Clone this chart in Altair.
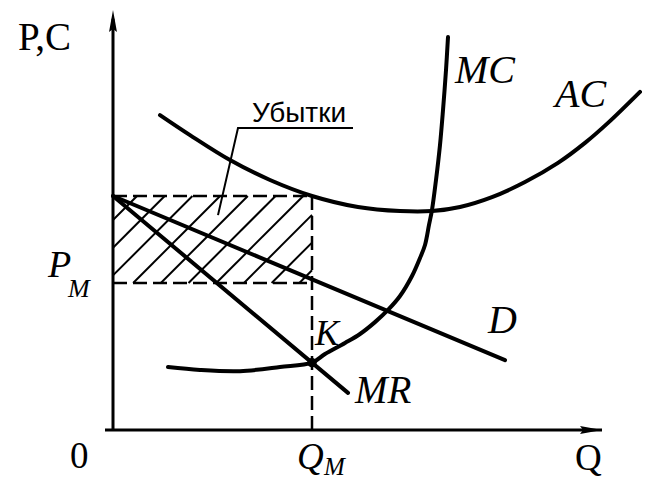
import altair as alt
import pandas as pd
import numpy as np

# ---------------- values (Q, P units) ----------------
ac_q = [0.94, 1.54, 2.34, 3.14, 3.98, 4.90, 5.74, 6.38, 6.94, 7.58, 8.24, 8.90, 9.44, 9.90, 10.54]
ac_p = [10.86, 10.17, 9.31, 8.62, 8.07, 7.69, 7.55, 7.55, 7.69, 8.03, 8.55, 9.21, 9.90, 10.59, 11.66]

mc_q = [1.10, 1.74, 2.54, 3.34, 3.98, 4.24, 4.64, 4.94, 5.24, 5.50, 5.74, 5.98, 6.14, 6.24,
        6.32, 6.38, 6.46, 6.54, 6.60, 6.66, 6.70]
mc_p = [2.17, 2.07, 2.03, 2.17, 2.32, 2.62, 3.00, 3.31, 3.72, 4.14, 4.62, 5.31, 5.93, 6.38,
        7.07, 7.59, 8.62, 9.83, 11.03, 12.41, 13.55]

d_q = [0.0, 7.84]
d_p = [8.07, 2.41]
mr_q = [0.0, 4.70]
mr_p = [8.07, 1.28]

Q_M = 3.98      # output
P_M = 5.07      # price
AC_M = 8.07     # average cost at Q_M
K_P = 2.32      # MR = MC point

y_axis_top = 14.48
x_axis_left = -0.16
x_axis_right = 9.78

leader_q = [2.10, 2.50, 4.80]
leader_p = [7.41, 10.41, 10.41]

# scale setup: 50 px per Q unit, 29 px per P unit
PXQ, PXP = 50.0, 29.0
X_DOM = [-2.1, 10.58]
Y_DOM = [-1.7931, 14.5517]

xs = alt.Scale(domain=X_DOM, nice=False, zero=False)
ys = alt.Scale(domain=Y_DOM, nice=False, zero=False)


def X(f="Q"):
    return alt.X(f"{f}:Q", scale=xs, axis=None)


def Y(f="P"):
    return alt.Y(f"{f}:Q", scale=ys, axis=None)


# ---------------- axes ----------------
axes_df = pd.DataFrame({
    "Q": [0.0, x_axis_left], "P": [0.0, 0.0],
    "Q2": [0.0, x_axis_right], "P2": [y_axis_top - 0.3, 0.0],
})
axes = alt.Chart(axes_df).mark_rule(color="black", strokeWidth=3).encode(
    x=X(), y=Y(), x2="Q2:Q", y2="P2:Q")

arrow_shape = "M0,-1L0.36,1L0,0.72L-0.36,1Z"
arr_up = alt.Chart(pd.DataFrame({"Q": [0.0], "P": [y_axis_top - 11 / PXP]})).mark_point(
    shape=arrow_shape, size=484, filled=True, color="black", opacity=1, strokeWidth=0
).encode(x=X(), y=Y())
arr_right = alt.Chart(pd.DataFrame({"Q": [x_axis_right - 11 / PXQ], "P": [0.0]})).mark_point(
    shape=arrow_shape, size=484, filled=True, color="black", opacity=1, strokeWidth=0, angle=90
).encode(x=X(), y=Y())

# ---------------- hatch (loss area) ----------------
spacing = 27.7
d_vals = -210 + spacing * np.arange(-1, 12)
h_rows = []
for dv in d_vals:
    q_lo = max(0.0, (dv + PXP * P_M) / PXQ)
    q_hi = min(Q_M, (dv + PXP * AC_M) / PXQ)
    if q_hi - q_lo > 0.02:
        h_rows.append({"Q": q_lo, "P": (PXQ * q_lo - dv) / PXP,
                       "Q2": q_hi, "P2": (PXQ * q_hi - dv) / PXP})
hatch = alt.Chart(pd.DataFrame(h_rows)).mark_rule(color="black", strokeWidth=2).encode(
    x=X(), y=Y(), x2="Q2:Q", y2="P2:Q")

# ---------------- dashed guides ----------------
dash_df = pd.DataFrame({
    "Q": [0.0, 0.0, Q_M], "P": [AC_M, P_M, 0.0],
    "Q2": [Q_M, Q_M, Q_M], "P2": [AC_M, P_M, AC_M],
})
dashes = alt.Chart(dash_df).mark_rule(color="black", strokeWidth=2.5, strokeDash=[14, 6]).encode(
    x=X(), y=Y(), x2="Q2:Q", y2="P2:Q")

# ---------------- curves ----------------
ac = alt.Chart(pd.DataFrame({"Q": ac_q, "P": ac_p})).mark_line(
    color="black", strokeWidth=4, interpolate="catmull-rom", strokeCap="round"
).encode(x=X(), y=Y())
mc = alt.Chart(pd.DataFrame({"Q": mc_q, "P": mc_p})).mark_line(
    color="black", strokeWidth=4, interpolate="catmull-rom", strokeCap="round"
).encode(x=X(), y=Y())
lin_df = pd.DataFrame({"Q": d_q + mr_q, "P": d_p + mr_p, "s": ["D", "D", "MR", "MR"]})
lines = alt.Chart(lin_df).mark_line(color="black", strokeWidth=4, strokeCap="round").encode(
    x=X(), y=Y(), detail="s:N")

leader = alt.Chart(pd.DataFrame({"Q": leader_q, "P": leader_p, "o": [0, 1, 2]})).mark_line(
    color="black", strokeWidth=2
).encode(x=X(), y=Y(), order="o:O")

kdot = alt.Chart(pd.DataFrame({"Q": [Q_M], "P": [K_P]})).mark_circle(
    color="black", size=90, opacity=1).encode(x=X(), y=Y())

# ---------------- labels ----------------
up_df = pd.DataFrame({"t": ["P,C", "0", "Q"],
                      "Q": [-1.90, -0.86, 9.24],
                      "P": [13.10, -1.31, -1.38],
                      "s": [39, 37, 37]})
it_df = pd.DataFrame({"t": ["MC", "AC", "D", "MR", "K", "P", "M", "Q", "M"],
                      "Q": [6.84, 8.84, 7.50, 4.84, 4.04, -1.30, -0.90, 3.68, 4.22],
                      "P": [11.97, 11.14, 3.34, 0.93, 2.93, 5.28, 4.60, -1.34, -1.55],
                      "s": [40, 40, 40, 39, 36, 38, 26, 37, 25]})
sans_df = pd.DataFrame({"t": ["Убытки"], "Q": [2.78], "P": [10.62], "s": [28]})

up_txt = alt.Chart(up_df).mark_text(
    font="Liberation Serif", align="left", baseline="alphabetic", color="black"
).encode(x=X(), y=Y(), text="t:N", size=alt.Size("s:Q", scale=None))
it_txt = alt.Chart(it_df).mark_text(
    font="Liberation Serif", fontStyle="italic", align="left", baseline="alphabetic", color="black"
).encode(x=X(), y=Y(), text="t:N", size=alt.Size("s:Q", scale=None))
sans_txt = alt.Chart(sans_df).mark_text(
    font="Liberation Sans", align="left", baseline="alphabetic", color="black"
).encode(x=X(), y=Y(), text="t:N", size=alt.Size("s:Q", scale=None))

chart = alt.layer(
    hatch, dashes, axes, arr_up, arr_right, ac, mc, lines, leader, kdot, up_txt, it_txt, sans_txt
).properties(
    width=634, height=474, padding=0, autosize=alt.AutoSizeParams(type="none"),
    background="white"
).configure_view(strokeWidth=0)

chart.save("out.html", embed_options={"renderer": "svg", "actions": False})
